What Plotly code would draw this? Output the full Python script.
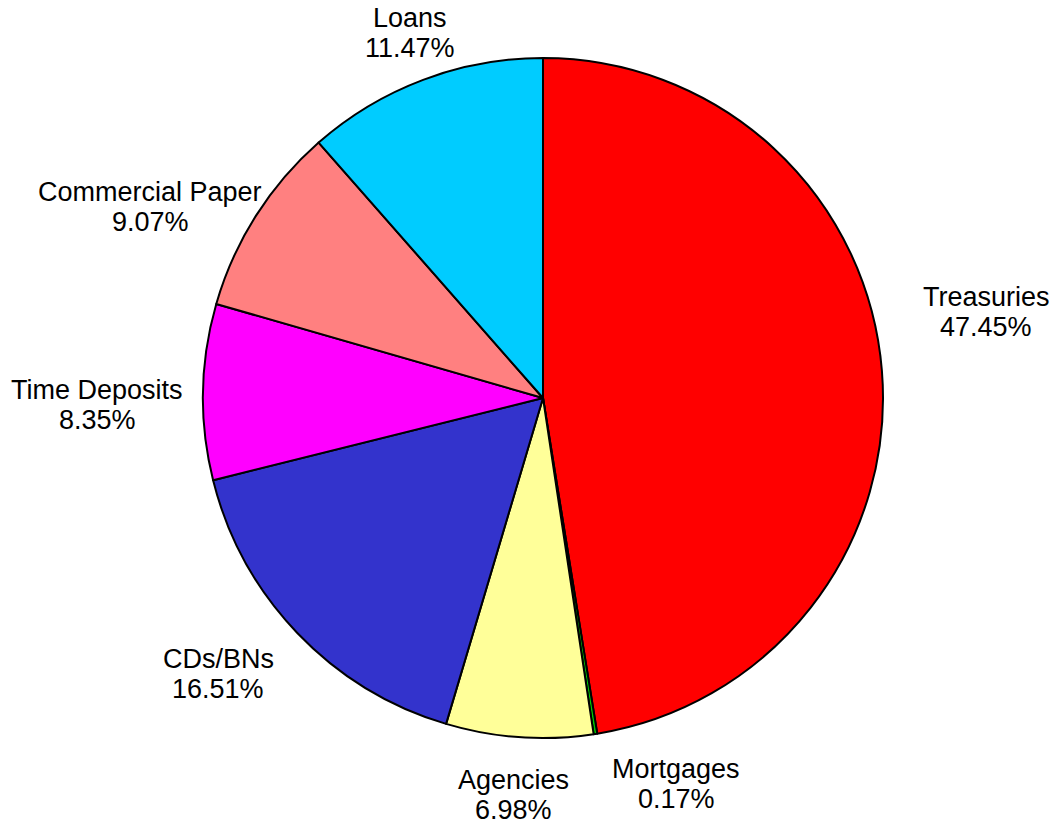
import math
import plotly.graph_objects as go

labels = ["Treasuries", "Mortgages", "Agencies", "CDs/BNs", "Time Deposits", "Commercial Paper", "Loans"]
values = [47.45, 0.17, 6.98, 16.51, 8.35, 9.07, 11.47]
colors = ["#FF0000", "#00CC00", "#FFFF99", "#3333CC", "#FF00FF", "#FF8080", "#00CCFF"]

# label placement tweaks (angular nudge in degrees, radial nudge in px)
label_nudge = [-7.5, -8.8, 0, 2, -2, -1.5, 1.2]
label_dr = [17, 10, 3, 20, -12, -22, -8]

W, H = 1058, 829
CX, CY, R = 543, 398, 340
FS = 27
LINE = 30

fig = go.Figure(go.Pie(
    labels=labels,
    values=values,
    marker=dict(colors=colors, line=dict(color="black", width=2)),
    sort=False,
    direction="clockwise",
    rotation=0,
    textinfo="none",
    hoverinfo="label+percent",
    showlegend=False,
    domain=dict(x=[(CX - R) / W, (CX + R) / W], y=[1 - (CY + R) / H, 1 - (CY - R) / H]),
))

total = sum(values)
cum = 0.0
annotations = []
font = dict(family="Liberation Sans, Arial, sans-serif", size=FS, color="black")
for lab, v, nd, dr in zip(labels, values, label_nudge, label_dr):
    mid = (cum + v / 2) / total * 360.0
    cum += v
    th = math.radians(mid + nd)
    ux, uy = math.sin(th), -math.cos(th)
    w = 14.3 * max(len(lab), 6)
    h = 60
    gap = 25 + dr
    px = CX + (R + gap) * ux + ux * w / 2
    py = CY + (R + gap) * uy + uy * h / 2
    pct = f"{v / total * 100:.2f}%"
    for txt, yy in ((lab, py - LINE / 2), (pct, py + LINE / 2)):
        annotations.append(dict(
            x=px / W, y=1 - yy / H, xref="paper", yref="paper",
            text=txt, showarrow=False,
            xanchor="center", yanchor="middle", align="center",
            font=font,
        ))

fig.update_layout(
    width=W, height=H,
    margin=dict(l=0, r=0, t=0, b=0),
    paper_bgcolor="white", plot_bgcolor="white",
    annotations=annotations,
)

fig.write_html("out.html")
